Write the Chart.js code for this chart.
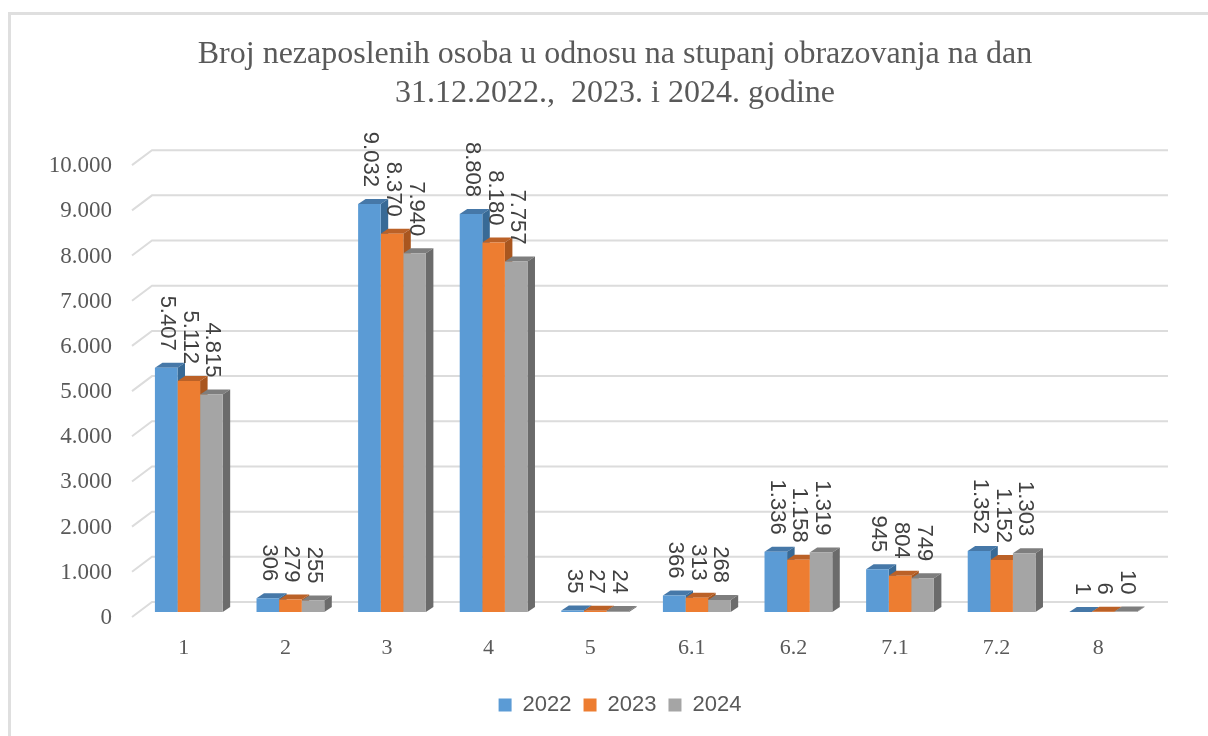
<!DOCTYPE html>
<html>
<head>
<meta charset="utf-8">
<script src="https://cdn.jsdelivr.net/npm/chart.js@4"></script>
<style>
  html, body { margin: 0; padding: 0; background: #fff; overflow: hidden; }
  #frame { position: absolute; left: 8px; top: 12px; width: 1300px; height: 800px; border: 3px solid #dfdfdf; box-sizing: border-box; }
  #chart { position: absolute; left: 8px; top: 0; }
</style>
</head>
<body>
<div id="frame"></div>
<canvas id="chart" width="1200" height="736"></canvas>
<script>
const categories = ['1', '2', '3', '4', '5', '6.1', '6.2', '7.1', '7.2', '8'];
const values2022 = [5407, 306, 9032, 8808, 35, 366, 1336, 945, 1352, 1];
const values2023 = [5112, 279, 8370, 8180, 27, 313, 1158, 804, 1152, 6];
const values2024 = [4815, 255, 7940, 7757, 24, 268, 1319, 749, 1303, 10];
const seriesNames = ['2022', '2023', '2024'];

const frontColors = ['#5b9bd5', '#ed7d31', '#a5a5a5'];
const topColors = ['#4678a8', '#bb6127', '#7e7e7e'];
const sideColors = ['#386a96', '#a9561f', '#6b6b6b'];

// thousands separator is a dot in the original
const fmt = v => String(v).replace(/\B(?=(\d{3})+$)/g, '.');

// depth of the fake 3D look, in px
const DX = 7.5, DY = 5;

const wallPlugin = {
    id: 'wall',
    afterLayout(chart) {
        // title and legend are centred on the whole picture, not on the plot
        chart.titleBlock.left += 34;
        chart.titleBlock.right += 34;
        chart.legend.left += 39;
        chart.legend.right += 39;
    },
    beforeDatasetsDraw(chart) {
        const { ctx, chartArea, scales } = chart;
        ctx.save();
        ctx.strokeStyle = '#dcdcdc';
        ctx.lineWidth = 2;
        scales.y.ticks.forEach(t => {
            const y = scales.y.getPixelForValue(t.value);
            ctx.beginPath();
            ctx.moveTo(chartArea.left - 6, y + 5);
            ctx.lineTo(chartArea.left + 14, y - 10);
            ctx.lineTo(chartArea.right + 14, y - 10);
            ctx.stroke();
        });
        // side and top faces go under the front faces of the next bar
        chart.data.datasets.forEach((ds, i) => {
            chart.getDatasetMeta(i).data.forEach(bar => {
                const l = bar.x - bar.width / 2, r = bar.x + bar.width / 2;
                ctx.fillStyle = topColors[i];
                ctx.beginPath();
                ctx.moveTo(l, bar.y);
                ctx.lineTo(l + DX, bar.y - DY);
                ctx.lineTo(r + DX, bar.y - DY);
                ctx.lineTo(r, bar.y);
                ctx.fill();
                ctx.fillStyle = sideColors[i];
                ctx.beginPath();
                ctx.moveTo(r, bar.y);
                ctx.lineTo(r + DX, bar.y - DY);
                ctx.lineTo(r + DX, bar.base - DY);
                ctx.lineTo(r, bar.base);
                ctx.fill();
            });
        });
        ctx.restore();
    },
    afterDatasetsDraw(chart) {
        const { ctx } = chart;
        ctx.save();
        ctx.fillStyle = '#404040';
        ctx.font = '22px "Liberation Sans"';
        ctx.textAlign = 'right';
        ctx.textBaseline = 'middle';
        chart.data.datasets.forEach((ds, i) => {
            chart.getDatasetMeta(i).data.forEach((bar, j) => {
                ctx.save();
                ctx.translate(bar.x + 1, bar.y - 17);
                ctx.rotate(Math.PI / 2);
                ctx.fillText(fmt(ds.data[j]), 0, 0);
                ctx.restore();
            });
        });
        ctx.restore();
    }
};

new Chart(document.getElementById('chart'), {
    type: 'bar',
    data: {
        labels: categories,
        datasets: [
            { label: seriesNames[0], data: values2022, backgroundColor: frontColors[0] },
            { label: seriesNames[1], data: values2023, backgroundColor: frontColors[1] },
            { label: seriesNames[2], data: values2024, backgroundColor: frontColors[2] }
        ]
    },
    plugins: [wallPlugin],
    options: {
        responsive: false,
        animation: false,
        layout: { padding: { left: 0, right: 54, top: 0, bottom: 10 } },
        datasets: { bar: { barPercentage: 1, categoryPercentage: 0.667 } },
        scales: {
            x: {
                afterFit(scale) { scale.height = 70; },
                grid: { display: false },
                border: { display: false },
                ticks: { color: '#595959', font: { family: 'Liberation Serif', size: 22 }, labelOffset: -5, padding: 15, maxRotation: 0 }
            },
            y: {
                min: 0,
                max: 10000,
                afterFit(scale) { scale.width = 130; },
                grid: { display: false },
                border: { display: false },
                ticks: {
                    stepSize: 1000,
                    color: '#595959',
                    font: { family: 'Liberation Serif', size: 23 },
                    labelOffset: 6,
                    padding: 18,
                    callback: v => fmt(v)
                }
            }
        },
        plugins: {
            title: {
                display: true,
                text: ['Broj nezaposlenih osoba u odnosu na stupanj obrazovanja na dan', '31.12.2022.,  2023. i 2024. godine'],
                color: '#595959',
                font: { family: 'Liberation Serif', size: 32, weight: 'normal', lineHeight: 1.19 },
                padding: { top: 36, bottom: 48 }
            },
            legend: {
                position: 'bottom',
                labels: {
                    color: '#595959',
                    font: { family: 'Liberation Sans', size: 22 },
                    boxWidth: 13,
                    boxHeight: 13,
                    padding: 12
                }
            },
            tooltip: { enabled: false }
        }
    }
});
</script>
</body>
</html>
